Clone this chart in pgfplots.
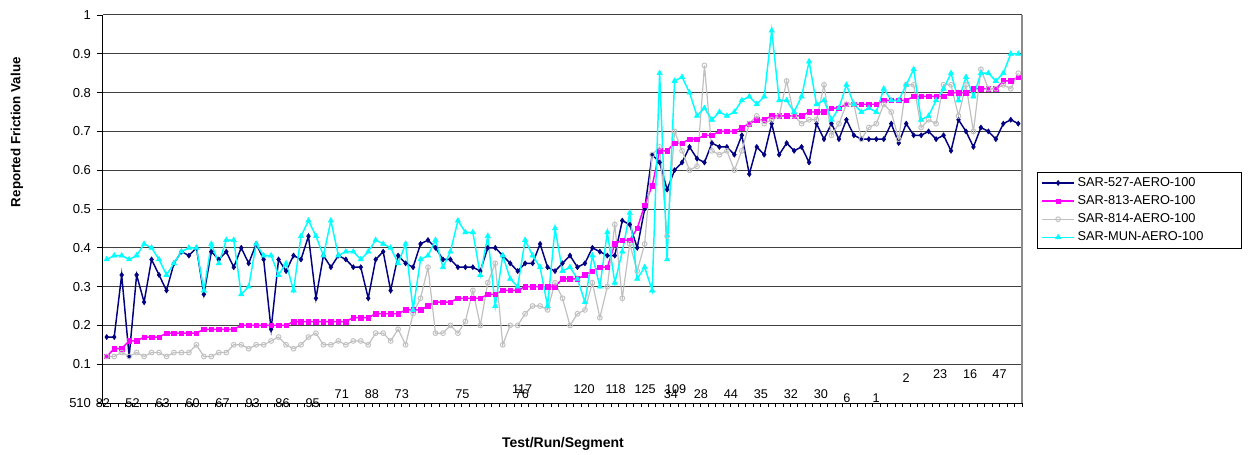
\documentclass[border=0pt]{standalone}
\usepackage{pgfplots}
\usepackage{pgfplotstable}
\pgfplotsset{compat=1.18}
\usepackage{fontspec}
\setmainfont{Liberation Sans}
\definecolor{navyc}{RGB}{0,0,128}
\definecolor{magc}{RGB}{255,0,255}
\definecolor{greyc}{RGB}{192,192,192}
\definecolor{cyanc}{RGB}{0,255,255}

\pgfplotstableread{
n a b c d
0 0.17 0.12 0.12 0.37
1 0.17 0.14 0.12 0.38
2 0.33 0.14 0.13 0.38
3 0.12 0.16 0.12 0.37
4 0.33 0.16 0.13 0.38
5 0.26 0.17 0.12 0.41
6 0.37 0.17 0.13 0.40
7 0.33 0.17 0.13 0.37
8 0.29 0.18 0.12 0.33
9 0.36 0.18 0.13 0.36
10 0.39 0.18 0.13 0.39
11 0.38 0.18 0.13 0.40
12 0.40 0.18 0.15 0.40
13 0.28 0.19 0.12 0.29
14 0.39 0.19 0.12 0.41
15 0.37 0.19 0.13 0.36
16 0.39 0.19 0.13 0.42
17 0.35 0.19 0.15 0.42
18 0.40 0.20 0.15 0.28
19 0.36 0.20 0.14 0.30
20 0.41 0.20 0.15 0.41
21 0.37 0.20 0.15 0.38
22 0.19 0.20 0.16 0.38
23 0.37 0.20 0.17 0.33
24 0.34 0.20 0.15 0.36
25 0.38 0.21 0.14 0.29
26 0.37 0.21 0.15 0.43
27 0.43 0.21 0.17 0.47
28 0.27 0.21 0.18 0.43
29 0.38 0.21 0.15 0.38
30 0.35 0.21 0.15 0.47
31 0.38 0.21 0.16 0.38
32 0.37 0.21 0.15 0.39
33 0.35 0.22 0.16 0.39
34 0.35 0.22 0.16 0.37
35 0.27 0.22 0.15 0.39
36 0.37 0.23 0.18 0.42
37 0.39 0.23 0.18 0.41
38 0.29 0.23 0.16 0.40
39 0.38 0.23 0.19 0.36
40 0.36 0.24 0.15 0.41
41 0.35 0.24 0.23 0.24
42 0.41 0.24 0.27 0.37
43 0.42 0.25 0.35 0.38
44 0.40 0.26 0.18 0.42
45 0.37 0.26 0.18 0.35
46 0.37 0.26 0.20 0.39
47 0.35 0.27 0.18 0.47
48 0.35 0.27 0.21 0.44
49 0.35 0.27 0.29 0.44
50 0.34 0.27 0.20 0.33
51 0.40 0.28 0.31 0.43
52 0.40 0.28 0.36 0.25
53 0.38 0.29 0.15 0.38
54 0.36 0.29 0.20 0.32
55 0.34 0.29 0.20 0.30
56 0.36 0.30 0.23 0.42
57 0.36 0.30 0.25 0.38
58 0.41 0.30 0.25 0.35
59 0.35 0.30 0.24 0.25
60 0.34 0.30 0.31 0.45
61 0.36 0.32 0.27 0.34
62 0.38 0.32 0.20 0.35
63 0.35 0.32 0.23 0.32
64 0.36 0.33 0.24 0.26
65 0.40 0.34 0.31 0.38
66 0.39 0.35 0.22 0.30
67 0.38 0.35 0.30 0.44
68 0.38 0.41 0.46 0.31
69 0.47 0.42 0.27 0.39
70 0.46 0.42 0.41 0.49
71 0.40 0.45 0.34 0.32
72 0.50 0.51 0.41 0.35
73 0.64 0.56 0.64 0.29
74 0.62 0.65 0.66 0.85
75 0.55 0.65 0.43 0.37
76 0.60 0.67 0.70 0.83
77 0.62 0.67 0.65 0.84
78 0.66 0.68 0.60 0.80
79 0.63 0.68 0.61 0.74
80 0.62 0.69 0.87 0.76
81 0.67 0.69 0.65 0.73
82 0.66 0.70 0.64 0.75
83 0.66 0.70 0.65 0.74
84 0.64 0.70 0.60 0.75
85 0.69 0.71 0.65 0.78
86 0.59 0.72 0.72 0.79
87 0.66 0.73 0.74 0.77
88 0.64 0.73 0.72 0.79
89 0.72 0.74 0.73 0.96
90 0.64 0.74 0.74 0.78
91 0.67 0.74 0.83 0.78
92 0.65 0.74 0.74 0.75
93 0.66 0.74 0.72 0.79
94 0.62 0.75 0.73 0.88
95 0.72 0.75 0.73 0.77
96 0.68 0.75 0.82 0.78
97 0.72 0.76 0.69 0.73
98 0.68 0.76 0.72 0.76
99 0.73 0.77 0.77 0.82
100 0.69 0.77 0.77 0.77
101 0.68 0.77 0.68 0.75
102 0.68 0.77 0.71 0.76
103 0.68 0.77 0.72 0.75
104 0.68 0.78 0.77 0.81
105 0.72 0.78 0.75 0.78
106 0.67 0.78 0.68 0.78
107 0.72 0.78 0.82 0.82
108 0.69 0.79 0.82 0.86
109 0.69 0.79 0.71 0.73
110 0.70 0.79 0.73 0.74
111 0.68 0.79 0.72 0.78
112 0.69 0.79 0.82 0.81
113 0.65 0.80 0.82 0.85
114 0.73 0.80 0.74 0.78
115 0.70 0.80 0.82 0.84
116 0.66 0.81 0.70 0.79
117 0.71 0.81 0.86 0.85
118 0.70 0.81 0.81 0.85
119 0.68 0.81 0.81 0.83
120 0.72 0.83 0.82 0.85
121 0.73 0.83 0.81 0.90
122 0.72 0.84 0.85 0.90
}\datatable

\begin{document}
\begin{tikzpicture}
\path[use as bounding box] (-77.25pt,-38.25pt) rectangle (859.5pt,302.25pt);
\begin{axis}[
  at={(0,0)}, anchor=south west,
  width=689.25pt, height=291pt, scale only axis,
  xmin=-0.5, xmax=122.5, ymin=0, ymax=1,
  clip=false,
  axis line style={draw=none},
  xtick={-0.5,0.5,...,122.5}, xticklabel=\empty,
  ytick={0,0.1,0.2,0.3,0.4,0.5,0.6,0.7,0.8,0.9,1},
  yticklabels={510,0.1,0.2,0.3,0.4,0.5,0.6,0.7,0.8,0.9,1},
  xtick pos=left, ytick pos=left,
  tick align=outside,
  major tick length=4.5pt,
  xtick style={black, line width=0.6pt, /pgfplots/major tick length=3pt},
  ytick style={black, line width=0.6pt},
  yticklabel style={font=\fontsize{9.75}{11}\selectfont, xshift=-1pt},
  ymajorgrids,
  grid style={black!75, line width=0.75pt},
  xlabel={Test/Run/Segment},
  ylabel={Reported Friction Value},
  xlabel style={font=\fontsize{10.5}{12}\selectfont\bfseries, at={(rel axis cs:0.5005,-0.1057)}, anchor=center},
  ylabel style={font=\fontsize{10}{12}\selectfont\bfseries, at={(rel axis cs:-0.0936,0.698)}, anchor=center},
  legend style={at={(rel axis cs:1.0163,0.596)}, anchor=north west,
    draw=black, line width=0.6pt, font=\fontsize{9.6}{11}\selectfont,
    inner xsep=3pt, inner ysep=2pt, row sep=1.4pt,
    nodes={text width=118pt, align=left, inner xsep=2pt}},
  legend cell align=left,
  legend image code/.code={\draw[mark repeat=2,mark phase=2] plot coordinates {(0pt,0pt) (12pt,0pt) (24pt,0pt)};},
]
\addplot[navyc, line width=1.1pt, mark=diamond*, mark size=1.9pt, mark options={fill=navyc, line width=0.4pt}] table[x=n, y=a] {\datatable};
\addlegendentry{SAR-527-AERO-100}
\addplot[magc, line width=1.1pt, mark=square*, mark size=1.7pt, mark options={fill=magc, line width=0.4pt}] table[x=n, y=b] {\datatable};
\addlegendentry{SAR-813-AERO-100}
\addplot[greyc, line width=0.9pt, mark=o, mark size=1.8pt, mark options={fill=white, line width=0.7pt}] table[x=n, y=c] {\datatable};
\addlegendentry{SAR-814-AERO-100}
\addplot[cyanc, line width=1.1pt, mark=triangle*, mark size=2.3pt, mark options={fill=cyanc, line width=0.4pt}] table[x=n, y=d] {\datatable};
\addlegendentry{SAR-MUN-AERO-100}

\draw[black, line width=0.75pt] (rel axis cs:0,0) -- (rel axis cs:0,1);
\draw[black, line width=0.75pt] (rel axis cs:0,0) -- (rel axis cs:1,0);
\draw[black!45, line width=0.9pt] (rel axis cs:1,0) -- (rel axis cs:1,1);

\begin{scope}[every node/.style={font=\fontsize{9.5}{11}\selectfont, inner sep=0pt, anchor=center}]
\node at (axis cs:-0.50,0) {82};
\node at (axis cs:3.45,0) {52};
\node at (axis cs:7.47,0) {63};
\node at (axis cs:11.49,0) {60};
\node at (axis cs:15.50,0) {67};
\node at (axis cs:19.52,0) {93};
\node at (axis cs:23.53,0) {86};
\node at (axis cs:27.55,0) {95};
\node at (axis cs:31.46,0.0224) {71};
\node at (axis cs:35.48,0.0224) {88};
\node at (axis cs:39.49,0.0224) {73};
\node at (axis cs:47.60,0.0224) {75};
\node at (axis cs:55.56,0.0224) {76};
\node at (axis cs:55.60,0.0353) {117};
\node at (axis cs:63.90,0.0353) {120};
\node at (axis cs:68.11,0.0353) {118};
\node at (axis cs:72.06,0.0353) {125};
\node at (axis cs:76.14,0.0353) {109};
\node at (axis cs:75.52,0.0224) {34};
\node at (axis cs:79.53,0.0224) {28};
\node at (axis cs:83.55,0.0224) {44};
\node at (axis cs:87.55,0.0224) {35};
\node at (axis cs:91.57,0.0224) {32};
\node at (axis cs:95.58,0.0224) {30};
\node at (axis cs:99.06,0.0137) {6};
\node at (axis cs:102.99,0.0137) {1};
\node at (axis cs:107.0,0.0652) {2};
\node at (axis cs:111.55,0.0747) {23};
\node at (axis cs:115.57,0.0747) {16};
\node at (axis cs:119.49,0.0747) {47};
\end{scope}
\end{axis}
\end{tikzpicture}
\end{document}
